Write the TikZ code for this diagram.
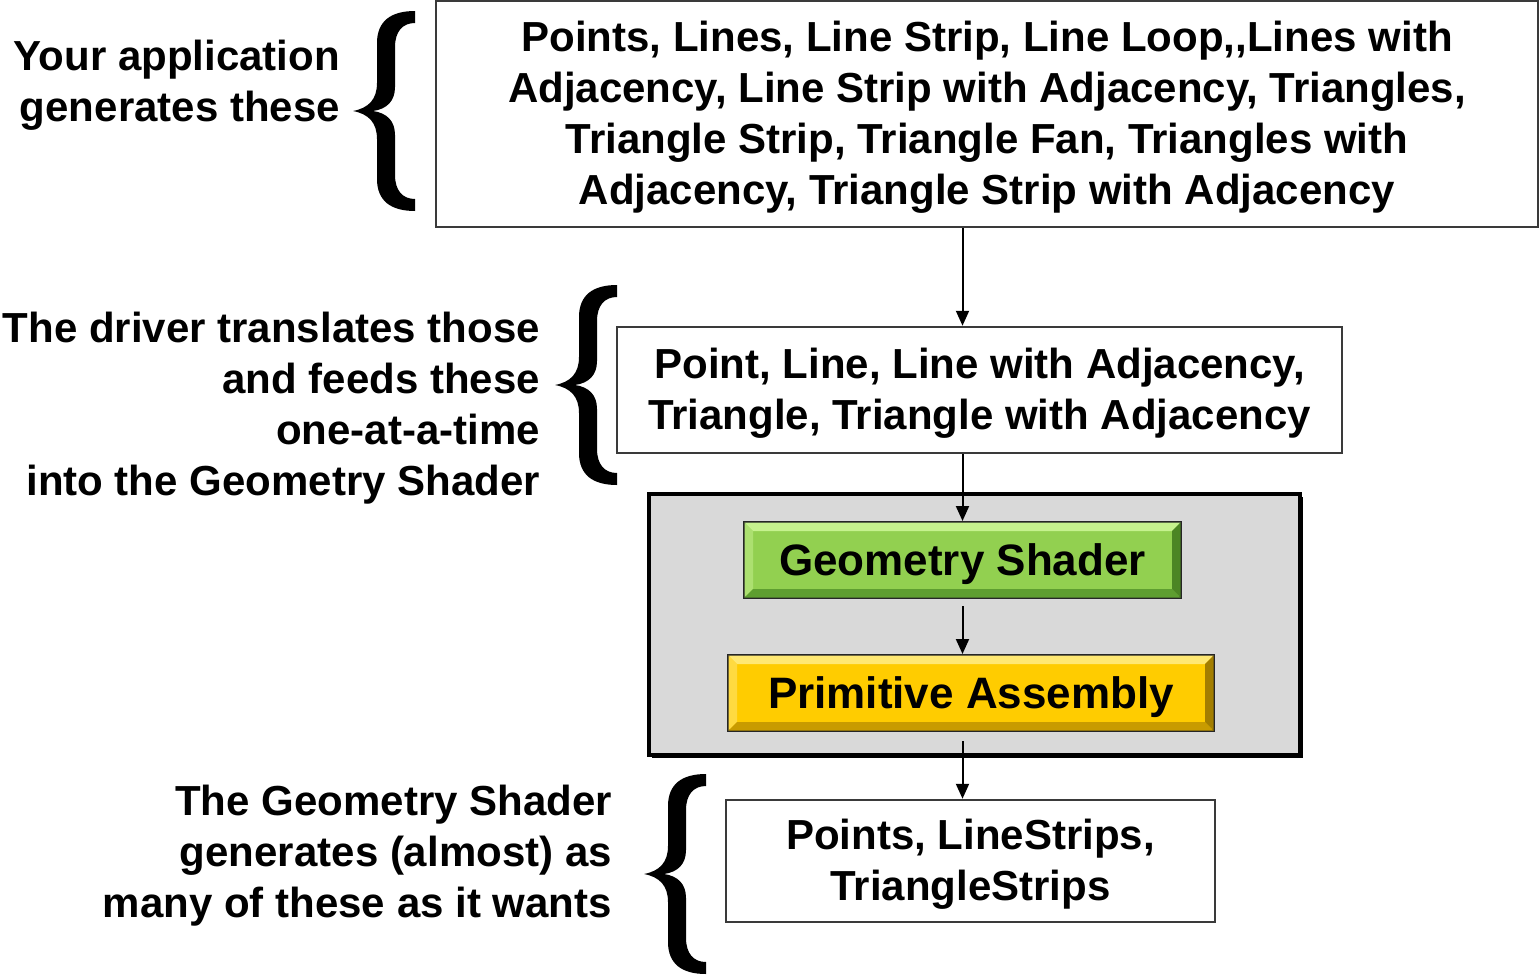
\documentclass[tikz,border=0pt]{standalone}
\usepackage{fontspec}
\setmainfont{Liberation Sans}
\usetikzlibrary{arrows.meta,shadows}

\definecolor{edge}{HTML}{3A3A3A}
\definecolor{panel}{HTML}{D9D9D9}
\definecolor{gsfill}{HTML}{92D050}
\definecolor{gshi}{HTML}{C6F28E}
\definecolor{gsside}{HTML}{ACE070}
\definecolor{gslo}{HTML}{5E9E30}
\definecolor{gsdeep}{HTML}{4C8524}
\definecolor{pafill}{HTML}{FFCC00}
\definecolor{pahi}{HTML}{FFE873}
\definecolor{paside}{HTML}{FFDA40}
\definecolor{palo}{HTML}{C89B00}
\definecolor{padeep}{HTML}{A37E00}

% taller first-line strut, lowers a boxed text block a little
\newcommand{\topstrut}{\rule{0pt}{44pt}}

% raised edge ring inside a stage box: #1 node, #2 top, #3 left, #4 bottom, #5 right
\newcommand{\drawbevel}[5]{%
  \fill[#2] ([shift={(1.5,1.5)}]#1.north west) -- ([shift={(-1.5,1.5)}]#1.north east)
    -- ([shift={(-10,10)}]#1.north east) -- ([shift={(10,10)}]#1.north west) -- cycle;
  \fill[#3] ([shift={(1.5,1.5)}]#1.north west) -- ([shift={(10,10)}]#1.north west)
    -- ([shift={(10,-10)}]#1.south west) -- ([shift={(1.5,-1.5)}]#1.south west) -- cycle;
  \fill[#4] ([shift={(1.5,-1.5)}]#1.south west) -- ([shift={(-1.5,-1.5)}]#1.south east)
    -- ([shift={(-10,-10)}]#1.south east) -- ([shift={(10,-10)}]#1.south west) -- cycle;
  \fill[#5] ([shift={(-1.5,1.5)}]#1.north east) -- ([shift={(-1.5,-1.5)}]#1.south east)
    -- ([shift={(-10,-10)}]#1.south east) -- ([shift={(-10,10)}]#1.north east) -- cycle;
}

\begin{document}
\begin{tikzpicture}[x=1pt,y=-1pt,
  every node/.style={font=\bfseries\fontsize{42}{51}\selectfont, inner sep=0pt},
  plainbox/.style={draw=edge, line width=2.5pt, fill=white, align=center},
  note/.style={align=right, anchor=east},
  panelbox/.style={draw=black, line width=4pt, fill=panel,
    drop shadow={shadow xshift=3pt, shadow yshift=-3pt, fill=black, opacity=1}},
  stagebox/.style={draw=black!85, line width=3pt},
  stagetext/.style={font=\bfseries\fontsize{44}{51}\selectfont, yshift=-4pt},
  arr/.style={line width=2pt, -{Triangle[length=15pt,width=13pt]}},
  curly/.pic={
    \fill[black] (62,0) -- (62,12) .. controls (50,12) and (42,20) .. (42,36)
      -- (42,76) .. controls (42,90) and (34,98) .. (20,100)
      .. controls (34,102) and (42,110) .. (42,124)
      -- (42,164) .. controls (42,180) and (50,188) .. (62,188)
      -- (62,200) .. controls (38,200) and (24,190) .. (24,168)
      -- (24,128) .. controls (24,112) and (16,103) .. (0,100)
      .. controls (16,97) and (24,88) .. (24,72)
      -- (24,32) .. controls (24,10) and (38,0) .. (62,0) -- cycle;
  }
]
\useasboundingbox (0,0) rectangle (1540,975);

% input primitives
\node[plainbox, minimum width=1102pt, minimum height=226pt] (top) at (987,114)
  {\topstrut Points, Lines, Line Strip, Line Loop,{},Lines with\\
   Adjacency, Line Strip with Adjacency, Triangles,\\
   Triangle Strip, Triangle Fan, Triangles with\\
   Adjacency, Triangle Strip with Adjacency\strut};
\node[note] (t1) at (340,86) {\strut Your application\\generates these\strut};
\pic at (353,11) {curly};

% primitives fed to the shader
\node[plainbox, minimum width=725pt, minimum height=126pt] (b2) at (979.5,390)
  {\topstrut Point, Line, Line with Adjacency,\\Triangle, Triangle with Adjacency\strut};
\node[note] (t2) at (540,409)
  {\strut The driver translates those\\and feeds these\\one-at-a-time\\into the Geometry Shader\strut};
\pic at (555,285) {curly};

% shader stage group
\node[panelbox, minimum width=651pt, minimum height=261pt] (grp) at (974.5,624.5) {};
\node[stagebox, fill=gsfill, minimum width=436pt, minimum height=75pt] (gs) at (962.5,560) {};
\drawbevel{gs}{gshi}{gsside}{gslo}{gsdeep}
\node[stagetext] (gst) at (gs) {Geometry Shader};
\node[stagebox, fill=pafill, minimum width=485pt, minimum height=75pt] (pa) at (971,693) {};
\drawbevel{pa}{pahi}{paside}{palo}{padeep}
\node[stagetext] (pat) at (pa) {Primitive Assembly};

% output primitives
\node[plainbox, minimum width=489pt, minimum height=122pt] (b3) at (970.5,861)
  {\topstrut Points, LineStrips,\\TriangleStrips\strut};
\node[note] (t3) at (612,856)
  {\strut The Geometry Shader\\generates (almost) as\\many of these as it wants\strut};
\pic at (644,774) {curly};

% flow
\draw[arr] (top.south -| gs.center) -- (b2.north -| gs.center);
\draw[arr] (b2.south -| gs.center) -- (gs.north);
\draw[arr, shorten <=7pt] (gs.south) -- (pa.north -| gs.center);
\draw[arr, shorten <=9pt] (pa.south -| gs.center) -- (b3.north -| gs.center);
\end{tikzpicture}
\end{document}
